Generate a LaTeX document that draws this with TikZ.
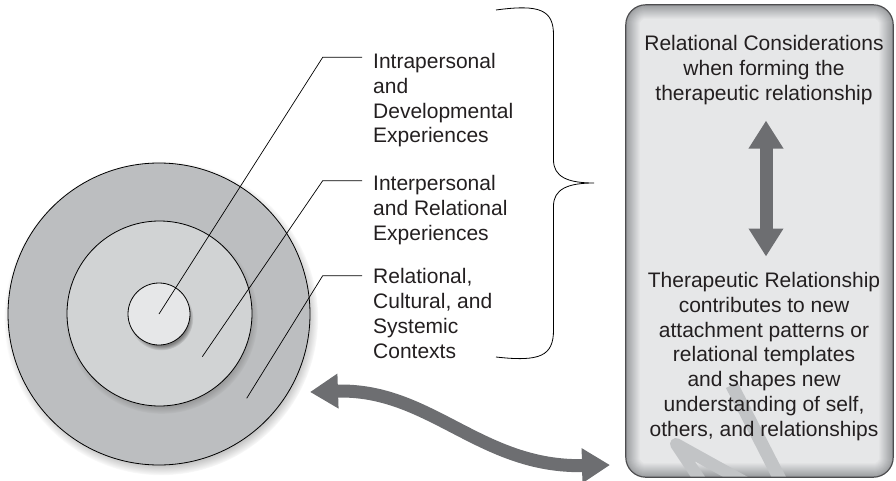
\documentclass[tikz,border=0pt]{standalone}
\usepackage{fontspec}
\setmainfont{Liberation Sans}
\usepackage{tikz}
\usetikzlibrary{calc}
\usetikzlibrary{shadows}
\usetikzlibrary{arrows.meta}
\definecolor{fondext}{HTML}{BCBEC0}
\definecolor{fondmil}{HTML}{D1D3D4}
\definecolor{fondint}{HTML}{E6E7E8}
\definecolor{fleche}{HTML}{6D6E71}
\definecolor{bevel}{HTML}{9C9EA1}
\definecolor{trame}{HTML}{C2C4C6}
\definecolor{encre}{HTML}{231F20}
\definecolor{cadre}{HTML}{4D4D4F}

\begin{document}
\begin{tikzpicture}[x=1pt,y=-1pt,
	texte/.style={font=\fontsize{21}{24.8}\selectfont, text=encre, inner sep=0pt},
	disque/.style={circle, draw=black, line width=0.8pt, inner sep=0pt,
		circular drop shadow={shadow scale=1.04, shadow xshift=2pt, shadow yshift=-4pt}},
	renvoi/.style={line width=0.7pt},
	grosse/.style={draw=fleche, line width=13pt,
		{Triangle[length=28pt,width=33pt]}-{Triangle[length=28pt,width=33pt]}}]
	\useasboundingbox (0,0) rectangle (896,481);
%					Tracé des disques :
	\node[disque, fill=fondext, minimum size=302pt] (ext) at (159,314) {};
	\node[disque, fill=fondmil, minimum size=185pt] (mil) at (159.5,313.5) {};
	\node[disque, fill=fondint, minimum size=62pt] (int) at (159,314) {};
%					Étiquettes :
	\node[texte, anchor=north west, align=left] (intra) at (373,53) {Intrapersonal\\and\\Developmental\\Experiences};
	\node[texte, anchor=north west, align=left] (inter) at (373,175) {Interpersonal\\and Relational\\Experiences};
	\node[texte, anchor=north west, align=left] (ctx) at (373,268.5) {Relational,\\Cultural, and\\Systemic\\Contexts};
%					Renvois :
	\coordinate (p2) at (202.3,356.7);
	\coordinate (p3) at (246.7,398.3);
	\coordinate (c1) at (322.7,57.3);
	\coordinate (c2) at (322.7,180.7);
	\coordinate (c3) at (322.7,275.7);
	\draw[renvoi, shorten >=11pt] (int.center) -- (c1) -- (c1 -| intra.west);
	\draw[renvoi, shorten >=11pt] (p2) -- (c2) -- (c2 -| inter.west);
	\draw[renvoi, shorten >=11pt] (p3) -- (c3) -- (c3 -| ctx.west);
%					Accolade :
	\draw[line width=0.8pt] (496,10) .. controls (540,4) and (553.5,10) .. (553.5,35) -- (553.5,160)
		.. controls (553.5,177) and (568,183) .. (594,183)
		.. controls (568,183) and (553.5,189) .. (553.5,206) -- (553.5,330)
		.. controls (553.5,356) and (540,362) .. (496,357);
%					Boîte :
	\node[fill=bevel, rounded corners=20pt, minimum width=267pt, minimum height=472pt, inner sep=0pt] (boite) at (759.5,241) {};
	\foreach \i in {1,...,14} {
		\pgfmathsetmacro\p{100*\i/14}
		\pgfmathsetmacro\r{20-\i}
		\fill[fondint!\p!bevel, rounded corners=\r pt] ($(boite.north west)+(\i,\i)$) rectangle ($(boite.south east)-(\i,\i)$);
	}
	\begin{scope}
		\clip[rounded corners=20pt] (boite.north west) rectangle (boite.south east);
		\draw[trame, line width=13pt] (731.7,385) -- (788,495);
		\draw[trame, line width=12pt, line join=round] (710,495) -- (676,444) -- (768,495);
	\end{scope}
	\draw[cadre, line width=1.2pt, rounded corners=20pt] (boite.north west) rectangle (boite.south east);
	\node[texte, align=center, anchor=north] (haut) at (764,35.5) {Relational Considerations\\when forming the\\therapeutic relationship};
	\node[texte, align=center, anchor=north] (bas) at (764,272) {Therapeutic Relationship\\contributes to new\\attachment patterns or\\relational templates\\and shapes new\\understanding of self,\\others, and relationships};
%					Flèches :
	\draw[grosse, shorten <=15.5pt, shorten >=15.5pt] ([xshift=2pt]haut.south) -- ([xshift=2pt]bas.north);
	\coordinate (gauche) at (310,392);
	\coordinate (droite) at (610,465);
	\draw[grosse] (gauche) .. controls (430,388) and (480,468) .. (droite);
\end{tikzpicture}
\end{document}
